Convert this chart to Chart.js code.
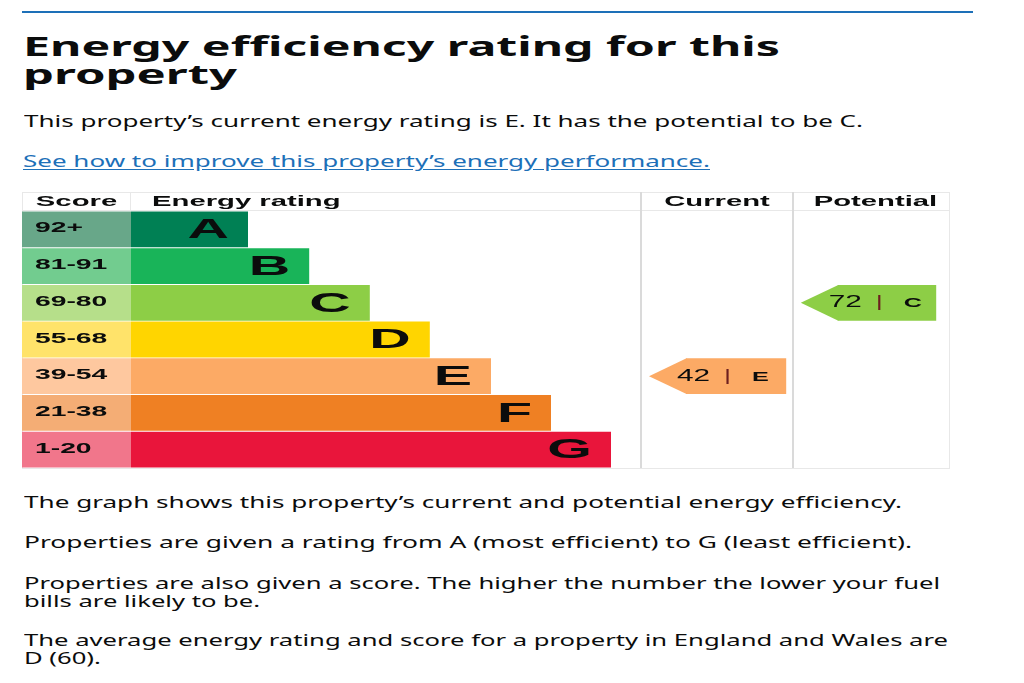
<!DOCTYPE html>
<html lang="en">
<head>
<meta charset="utf-8">
<title>Energy efficiency rating for this property</title>
<script src="https://cdn.jsdelivr.net/npm/chart.js@4.4.1/dist/chart.umd.min.js"></script>
<style>
  html, body { margin: 0; padding: 0; background: #fff; }
  body {
    width: 1024px; height: 683px; position: relative; overflow: hidden;
    color: #0b0c0c; font-family: "Noto Sans", sans-serif;
  }
  .rule { position: absolute; left: 22px; top: 11px; width: 951px; height: 2px; background: #1d70b8; }
  .ln { position: absolute; left: 24px; white-space: nowrap; line-height: 1; transform-origin: 0 0; margin: 0; }
  .h { font-size: 27px; font-weight: 700; }
  .p { font-size: 16px; }
  .a { color: #1d70b8; text-decoration: underline; text-underline-offset: 2px; }
  #wrap { position: absolute; left: 0; top: 185px; width: 1024px; height: 290px; }
</style>
</head>
<body>
<div class="rule"></div>

<div class="ln h" style="left:23px" data-base="56" data-end="780">Energy efficiency rating for this</div>
<div class="ln h" style="left:23px" data-base="83.5" data-end="237">property</div>

<div class="ln p" data-base="127" data-end="863">This property’s current energy rating is E. It has the potential to be C.</div>
<div class="ln p a" style="left:23px" data-base="167.5" data-end="710">See how to improve this property’s energy performance.</div>

<div id="wrap"><canvas id="epcCanvas"></canvas></div>

<div class="ln p" data-base="508" data-end="902">The graph shows this property’s current and potential energy efficiency.</div>
<div class="ln p" data-base="548" data-end="912">Properties are given a rating from A (most efficient) to G (least efficient).</div>
<div class="ln p" data-base="589" data-end="940">Properties are also given a score. The higher the number the lower your fuel</div>
<div class="ln p" data-base="607">bills are likely to be.</div>
<div class="ln p" data-base="646" data-end="948">The average energy rating and score for a property in England and Wales are</div>
<div class="ln p" data-base="664">D (60).</div>

<script>
const bands = ["A", "B", "C", "D", "E", "F", "G"];
const scoreRanges = ["92+", "81-91", "69-80", "55-68", "39-54", "21-38", "1-20"];
// relative bar lengths of the rating bands
const bandLengths = [1.95, 2.97, 3.98, 4.98, 6.0, 7.0, 8.0];
const bandColors = ["#008054", "#19b459", "#8dce46", "#ffd500", "#fcaa65", "#ef8023", "#e9153b"];
const scoreColors = ["#68a789", "#72cc8f", "#b6df8a", "#ffe36a", "#fec89f", "#f4ad75", "#f1768b"];

const currentScore = 42;
const currentBand = "E";
const potentialScore = 72;
const potentialBand = "C";

// layout of the table along the x scale (1 unit = one band step)
const SCORE_COL_START = -1.8167;
const TABLE_END = 13.65;
const CURRENT_COL = [8.5, 11.033];
const POTENTIAL_COL = [11.033, 13.65];
const CURRENT_BODY = [9.25, 10.92];
const POTENTIAL_BODY = [11.78, 13.42];
const TIP = 37;
const HEADER_H = 19;

const FONT = '"Liberation Sans", Arial, sans-serif';
const INK = "#0b0c0c";

function stretchText(ctx, text, x, y, sx, align) {
  ctx.save();
  ctx.translate(x, y);
  ctx.scale(sx, 1);
  ctx.textAlign = align;
  ctx.textBaseline = "middle";
  ctx.fillText(text, 0, 0);
  ctx.restore();
}

const tablePlugin = {
  id: "epc_table",
  beforeDatasetsDraw: (chart) => {
    const { ctx, chartArea: { left, right, top, bottom }, scales: { x } } = chart;
    const headTop = top - HEADER_H;
    ctx.save();
    ctx.strokeStyle = "#e8e8e8";
    ctx.lineWidth = 1;
    ctx.beginPath();
    ctx.moveTo(left, headTop + 0.5); ctx.lineTo(right, headTop + 0.5);
    ctx.moveTo(left, top - 0.5); ctx.lineTo(right, top - 0.5);
    ctx.moveTo(left, bottom + 0.5); ctx.lineTo(right, bottom + 0.5);
    ctx.moveTo(left + 0.5, headTop); ctx.lineTo(left + 0.5, bottom);
    ctx.moveTo(right - 0.5, headTop); ctx.lineTo(right - 0.5, bottom);
    ctx.moveTo(x.getPixelForValue(0) - 0.5, headTop); ctx.lineTo(x.getPixelForValue(0) - 0.5, top);
    ctx.stroke();
    ctx.strokeStyle = "#dadada";
    ctx.lineWidth = 2;
    ctx.beginPath();
    [CURRENT_COL[0], POTENTIAL_COL[0]].forEach((v) => {
      const px = Math.round(x.getPixelForValue(v));
      ctx.moveTo(px, headTop); ctx.lineTo(px, bottom);
    });
    ctx.stroke();

    // header labels
    ctx.fillStyle = INK;
    ctx.font = "bold 15px " + FONT;
    const hy = top - 9.5;
    stretchText(ctx, "Score", (x.getPixelForValue(SCORE_COL_START) + x.getPixelForValue(0)) / 2, hy, 1.95, "center");
    stretchText(ctx, "Energy rating", x.getPixelForValue(0) + 21, hy, 1.95, "left");
    stretchText(ctx, "Current", (x.getPixelForValue(CURRENT_COL[0]) + x.getPixelForValue(CURRENT_COL[1])) / 2, hy, 1.95, "center");
    stretchText(ctx, "Potential", (x.getPixelForValue(POTENTIAL_COL[0]) + x.getPixelForValue(POTENTIAL_COL[1])) / 2 + 4, hy, 1.95, "center");
    ctx.restore();
  },
  afterDatasetsDraw: (chart) => {
    const { ctx, chartArea: { left } } = chart;
    ctx.save();
    ctx.fillStyle = INK;

    // score ranges in the first column
    const scoreMeta = chart.getDatasetMeta(0);
    ctx.font = "bold 14.5px " + FONT;
    scoreMeta.data.forEach((el, i) => {
      stretchText(ctx, scoreRanges[i], left + 13, el.y - 1, 1.95, "left");
    });

    // band letters at the end of each bar
    const bandMeta = chart.getDatasetMeta(1);
    ctx.font = "bold 28px " + FONT;
    bandMeta.data.forEach((el, i) => {
      stretchText(ctx, bands[i], el.x - 19, el.y + 1, 2.05, "right");
    });

    // arrow heads and labels for current and potential
    [[2, currentScore, currentBand], [3, potentialScore, potentialBand]].forEach(([di, score, band]) => {
      const el = chart.getDatasetMeta(di).data[bands.indexOf(band)];
      const half = el.height / 2;
      ctx.fillStyle = bandColors[bands.indexOf(band)];
      ctx.beginPath();
      ctx.moveTo(el.base + 0.5, el.y - half);
      ctx.lineTo(el.base - TIP, el.y);
      ctx.lineTo(el.base + 0.5, el.y + half);
      ctx.closePath();
      ctx.fill();

      ctx.fillStyle = INK;
      ctx.font = "17px " + FONT;
      stretchText(ctx, String(score), el.base - 9, el.y, 1.75, "left");
      ctx.fillStyle = "#6d1f1f";
      stretchText(ctx, "|", el.base + 38, el.y, 1.6, "left");
      ctx.fillStyle = INK;
      ctx.font = "bold 12px " + FONT;
      stretchText(ctx, band, el.base + 66, el.y + 1, 2.1, "left");
    });
    ctx.restore();
  },
};

const data = {
  labels: bands,
  datasets: [
    {
      label: "Score",
      data: bands.map(() => [SCORE_COL_START, 0]),
      backgroundColor: scoreColors,
    },
    {
      label: "Energy rating",
      data: bandLengths.map((v) => [0, v]),
      backgroundColor: bandColors,
    },
    {
      label: "Current",
      data: bands.map((b) => (b === currentBand ? CURRENT_BODY : null)),
      backgroundColor: bandColors[bands.indexOf(currentBand)],
    },
    {
      label: "Potential",
      data: bands.map((b) => (b === potentialBand ? POTENTIAL_BODY : null)),
      backgroundColor: bandColors[bands.indexOf(potentialBand)],
    },
  ],
};

const config = {
  type: "bar",
  data: data,
  options: {
    indexAxis: "y",
    responsive: true,
    maintainAspectRatio: false,
    animation: false,
    layout: { padding: { left: 22, right: 74, top: 26, bottom: 7 } },
    datasets: {
      bar: {
        grouped: false,
        barPercentage: 0.975,
        categoryPercentage: 1,
        borderWidth: 0,
      },
    },
    plugins: {
      legend: { display: false },
      tooltip: { enabled: false },
    },
    scales: {
      x: { type: "linear", min: SCORE_COL_START, max: TABLE_END, display: false },
      y: { type: "category", display: false },
    },
  },
  plugins: [tablePlugin],
};

// stretch each text line so it spans the same width as in the picture
function placeLines() {
  let lastSx = 1;
  document.querySelectorAll(".ln").forEach((el) => {
    el.style.transform = "none";
    const size = parseFloat(getComputedStyle(el).fontSize);
    el.style.top = (parseFloat(el.dataset.base) - 0.888 * size) + "px";
    const natural = el.getBoundingClientRect().width;
    let sx = lastSx;
    if (el.dataset.end) sx = (parseFloat(el.dataset.end) - el.offsetLeft) / natural;
    el.style.transform = "scaleX(" + sx + ")";
    lastSx = sx;
  });
}

placeLines();
if (document.fonts && document.fonts.ready) document.fonts.ready.then(placeLines);

const canvas = document.getElementById("epcCanvas");
if (canvas) {
  new Chart(canvas.getContext("2d"), config);
} else {
  console.error("Canvas not found");
}
</script>
</body>
</html>
